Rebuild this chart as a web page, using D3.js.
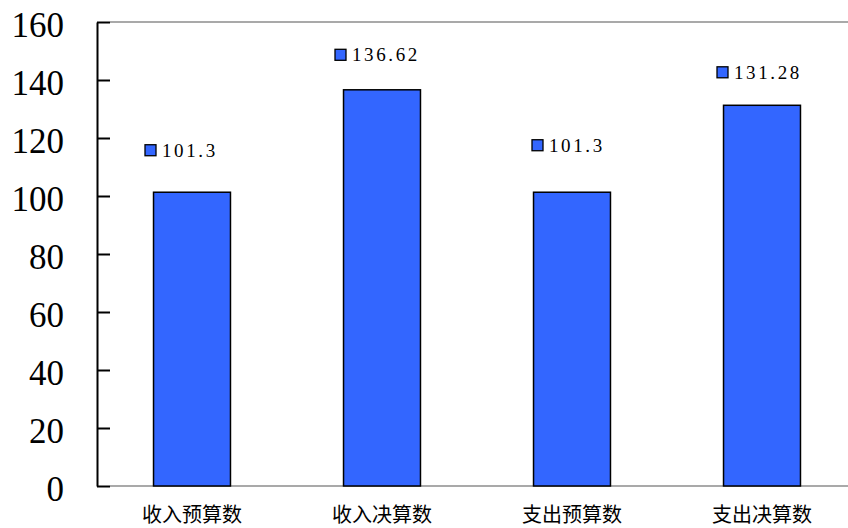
<!DOCTYPE html>
<html>
<head>
<meta charset="utf-8">
<script src="https://cdn.jsdelivr.net/npm/d3@7/dist/d3.min.js"></script>
<style>
  html, body { margin: 0; padding: 0; background: #fff; }
  svg { display: block; }
</style>
</head>
<body>
<svg id="chart" width="848" height="528"></svg>
<script>
// ---- data ----
const categories = ["收入预算数", "收入决算数", "支出预算数", "支出决算数"];
const values = [101.3, 136.62, 101.3, 131.28];
const valueLabels = ["101.3", "136.62", "101.3", "131.28"];
const yTicks = [0, 20, 40, 60, 80, 100, 120, 140, 160];

// ---- layout (label nudges, px) ----
const labelDx = [-47, -47, -40, -45];
const labelDy = [-42, -35, -47, -33];

const W = 848, H = 528;
const plotLeft = 97, plotTop = 22, plotBottom = 486, plotRight = 857;

const svg = d3.select("#chart");

const y = d3.scaleLinear().domain([0, 160]).range([plotBottom, plotTop]);
const x = d3.scaleBand().domain(categories).range([plotLeft, plotRight])
  .paddingInner(0.595).paddingOuter(0.595 / 2);

// horizontal gray lines at top and bottom
svg.append("g").selectAll("line").data([0, 160]).join("line")
  .attr("x1", plotLeft + 13).attr("x2", W)
  .attr("y1", d => y(d)).attr("y2", d => y(d))
  .attr("stroke", "#8c8c8c").attr("stroke-width", 1.6);

// bars
svg.append("g").selectAll("rect").data(values).join("rect")
  .attr("x", (d, i) => x(categories[i]))
  .attr("y", d => y(d))
  .attr("width", x.bandwidth())
  .attr("height", d => y(0) - y(d))
  .attr("fill", "#3366ff")
  .attr("stroke", "#000")
  .attr("stroke-width", 1.5);

// y axis
const yAxis = d3.axisLeft(y).tickValues(yTicks).tickSizeInner(-13).tickSizeOuter(0).tickPadding(33);
const ag = svg.append("g").attr("transform", `translate(${plotLeft},0)`).call(yAxis);
ag.select(".domain").attr("stroke", "#000").attr("stroke-width", 2);
ag.selectAll(".tick line").attr("stroke", "#000").attr("stroke-width", 2);
ag.selectAll(".tick text")
  .attr("font-family", "'Liberation Serif', 'DejaVu Serif', serif")
  .attr("font-size", 35)
  .attr("fill", "#000")
  .attr("dy", null)
  .attr("y", 14.5);

// x category labels
svg.append("g").selectAll("text").data(categories).join("text")
  .attr("x", d => x(d) + x.bandwidth() / 2)
  .attr("y", 522)
  .attr("text-anchor", "middle")
  .attr("font-family", "'Noto Sans CJK SC', sans-serif")
  .attr("font-size", 20)
  .attr("fill", "#000")
  .text(d => d);

// value labels with legend-key squares
const lg = svg.append("g").selectAll("g").data(values).join("g")
  .attr("transform", (d, i) => `translate(${x(categories[i]) + x.bandwidth() / 2 + labelDx[i]},${y(d) + labelDy[i]})`);
lg.append("rect")
  .attr("x", 0).attr("y", -5.5).attr("width", 11).attr("height", 11)
  .attr("fill", "#3366ff").attr("stroke", "#000").attr("stroke-width", 1.3);
lg.append("text")
  .attr("x", 17).attr("y", 6.5)
  .attr("font-family", "'Liberation Serif', 'DejaVu Serif', serif")
  .attr("font-size", 19)
  .attr("letter-spacing", 2.6)
  .attr("fill", "#000")
  .text((d, i) => valueLabels[i]);
</script>
</body>
</html>
